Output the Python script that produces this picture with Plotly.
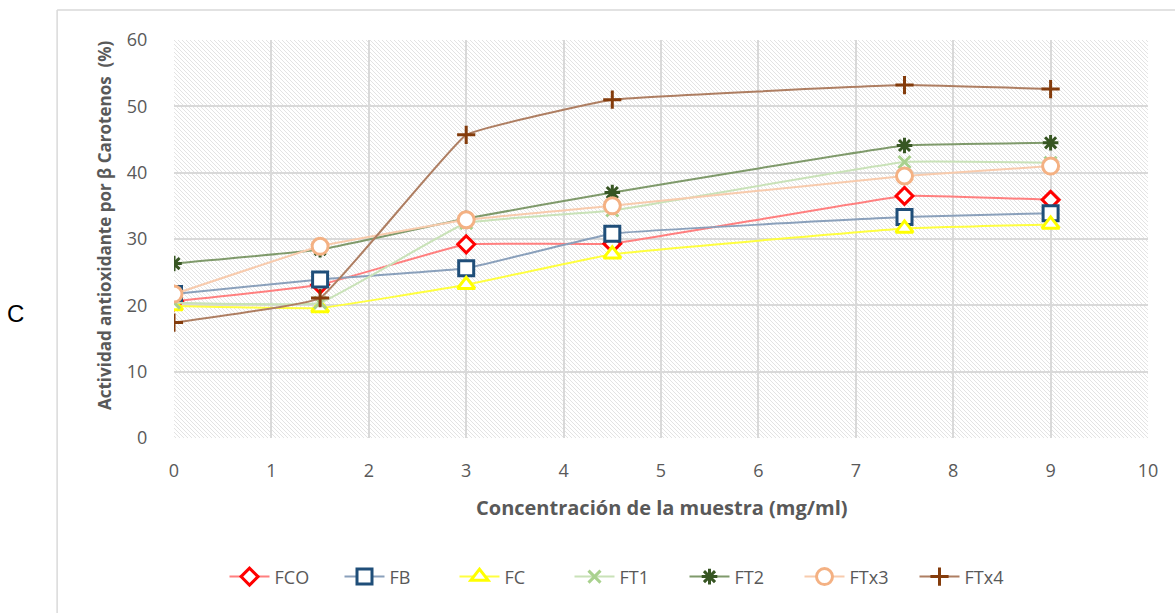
import base64
import plotly.graph_objects as go

x_vals = [0, 1.5, 3, 4.5, 7.5, 9]
FCO = [20.6, 23.1, 29.2, 29.3, 36.5, 35.9]
FB = [21.7, 23.9, 25.6, 30.8, 33.3, 33.9]
FC = [19.9, 19.6, 23.1, 27.7, 31.6, 32.2]
FT1 = [20.4, 20.4, 32.4, 34.3, 41.6, 41.5]
FT2 = [26.3, 28.4, 33.1, 37.0, 44.1, 44.5]
FTx3 = [21.7, 28.9, 32.9, 35.0, 39.5, 41.0]
FTx4 = [17.4, 21.1, 45.7, 51.0, 53.2, 52.6]

series = [
    ("FCO", FCO, "#ff7f7f", "diamond", "#ff0000", 13),
    ("FB", FB, "#8aa0bb", "square", "#1f4e79", 15),
    ("FC", FC, "#ffff40", "triangle-up", "#ffff00", 15),
    ("FT1", FT1, "#c9e2b8", "x-thin", "#a9d18e", 12),
    ("FT2", FT2, "#7f9a6b", "asterisk", "#375623", 13),
    ("FTx3", FTx3, "#f8cbad", "circle", "#f4b183", 16),
    ("FTx4", FTx4, "#ae7e62", "cross-thin", "#843c0c", 13),
]

FONT = "Open Sans"
GRAY = "#595959"

fig = go.Figure()
for name, ys, lc, sym, mc, sz in series:
    if sym in ("x-thin", "cross-thin", "asterisk"):
        marker = dict(symbol=sym + "-open" if sym == "asterisk" else sym, size=sz,
                      color=mc, line=dict(color=mc, width=3))
    else:
        marker = dict(symbol=sym, size=sz, color="white", line=dict(color=mc, width=3))
    fig.add_trace(go.Scatter(
        x=x_vals, y=ys, name=name, mode="lines+markers",
        line=dict(color=lc, width=2, shape="spline", smoothing=0.25),
        marker=marker,
    ))

# hatched plot background
W, H = 974, 398
svg = (f'<svg xmlns="http://www.w3.org/2000/svg" width="{W}" height="{H}" '
       f'viewBox="0 0 {W} {H}" preserveAspectRatio="none">'
       '<defs><pattern id="p" patternUnits="userSpaceOnUse" width="4" height="4">'
       '<path d="M-1,-1 L5,5 M-1,3 L1,5 M3,-1 L5,1" stroke="#dcdcdc" stroke-width="0.8"/>'
       '</pattern></defs>'
       f'<rect width="{W}" height="{H}" fill="white"/>'
       f'<rect width="{W}" height="{H}" fill="url(#p)"/></svg>')
src = "data:image/svg+xml;base64," + base64.b64encode(svg.encode()).decode()

fig.update_layout(
    width=1175, height=613,
    margin=dict(l=174, r=27, t=40, b=175),
    paper_bgcolor="white", plot_bgcolor="white",
    font=dict(family=FONT, color=GRAY, size=16),
    showlegend=True,
    legend=dict(orientation="h", x=(627 - 174) / 974, xanchor="center", y=-0.349, yanchor="middle",
                font=dict(size=18, color=GRAY, family=FONT), itemwidth=40,
                entrywidth=60, entrywidthmode="pixels", tracegroupgap=0),
    images=[dict(source=src, xref="paper", yref="paper", x=0, y=1, sizex=1, sizey=1,
                 xanchor="left", yanchor="top", sizing="stretch", layer="below")],
    xaxis=dict(range=[0, 10], dtick=1, showgrid=True, gridcolor="#d9d9d9", gridwidth=1.5,
               zeroline=False, showline=False, ticks="outside", ticklen=16,
               tickcolor="rgba(0,0,0,0)",
               tickfont=dict(size=18, color=GRAY)),
    yaxis=dict(range=[0, 60], dtick=10, showgrid=True, gridcolor="#d9d9d9", gridwidth=1.5,
               zeroline=False, showline=False, ticks="outside", ticklen=22,
               tickcolor="rgba(0,0,0,0)",
               tickfont=dict(size=18, color=GRAY)),
    annotations=[
        dict(text="<b>Concentración de la muestra (mg/ml)</b>", xref="paper", yref="paper",
             x=(662 - 174) / 974, y=(438 - 507) / 398, xanchor="center", yanchor="middle",
             showarrow=False, font=dict(size=20, color=GRAY, family=FONT)),
        dict(text="<b>Actividad antioxidante por β Carotenos  (%)</b>", xref="paper", yref="paper",
             x=(105 - 174) / 974, y=(438 - 225) / 398, xanchor="center", yanchor="middle",
             showarrow=False, textangle=-90, font=dict(size=17, color=GRAY, family=FONT)),
        dict(text="C", xref="paper", yref="paper", x=(15 - 174) / 974, y=(438 - 313) / 398,
             xanchor="center", yanchor="middle", showarrow=False,
             font=dict(size=24, color="#000000", family="Liberation Sans")),
    ],
    shapes=[
        dict(type="line", xref="paper", yref="paper", x0=-0.12, x1=-0.12, y0=-0.5, y1=1.0754,
             line=dict(color="#d9d9d9", width=1.5)),
        dict(type="line", xref="paper", yref="paper", x0=-0.12, x1=1.05, y0=1.0754, y1=1.0754,
             line=dict(color="#d9d9d9", width=1.5)),
    ],
)

fig.write_html("out.html")
